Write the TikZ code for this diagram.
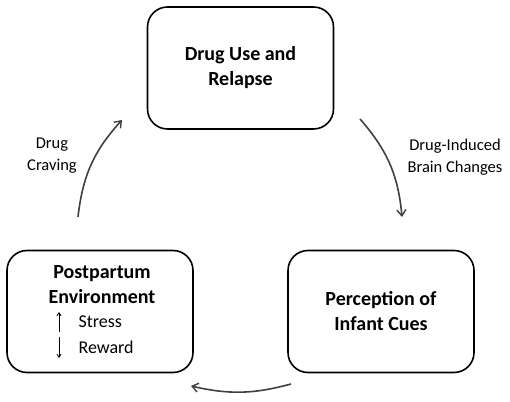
\documentclass[tikz,border=0pt]{standalone}
\usepackage{fontspec}
\setmainfont{Carlito}
\usetikzlibrary{arrows.meta}
\begin{document}
\begin{tikzpicture}[x=1pt,y=1pt,
  box/.style={draw=black, line width=1.6pt, rounded corners=20pt, minimum width=186pt, minimum height=122pt, inner sep=0pt},
  title/.style={font=\fontsize{20}{25}\selectfont\bfseries, align=center},
  lbl/.style={font=\fontsize{16.5}{22}\selectfont, align=center},
  cyc/.style={draw=black!75, line width=1.6pt, -{Straight Barb[length=6pt,width=9pt,line width=1.4pt]}},
  small/.style={draw=black, line width=0.9pt, -{Straight Barb[length=3pt,width=4pt]}}
]
\useasboundingbox (0,0) rectangle (510,401);
% boxes
\node[box] (top) at (240.5,333) {};
\node[box] (left) at (100,89.5) {};
\node[box] (right) at (381,89.5) {};
% texts
\node[title] (toptxt) at (240.5,333) {Drug Use and\\Relapse};
\node[title] (righttxt) at (381,89.5) {Perception of\\Infant Cues};
\node[title] (lefttxt) at (102,116) {Postpartum\\Environment};
\node[font=\fontsize{18}{22}\selectfont, anchor=west] (stress) at (75,79) {Stress};
\node[font=\fontsize{18}{22}\selectfont, anchor=west] (reward) at (75,54) {Reward};
\coordinate (u1) at (59,69);
\coordinate (u2) at (59,89);
\coordinate (d1) at (59,64);
\coordinate (d2) at (59,43);
\draw[small] (u1) -- (u2);
\draw[small] (d1) -- (d2);
% labels
\node[lbl] (crave) at (52,245) {Drug\\Craving};
\node[lbl] (brain) at (455,244) {Drug-Induced\\Brain Changes};
% cycle arrows
\coordinate (a1) at (360,282);
\coordinate (a2) at (402,184);
\coordinate (b1) at (291,17);
\coordinate (b2) at (191,15);
\coordinate (c1) at (78,184);
\coordinate (c2) at (122,281);
\draw[cyc] (a1) to[bend left=18] (a2);
\draw[cyc] (b1) to[bend left=14] (b2);
\draw[cyc] (c1) to[bend left=18] (c2);
\end{tikzpicture}
\end{document}
